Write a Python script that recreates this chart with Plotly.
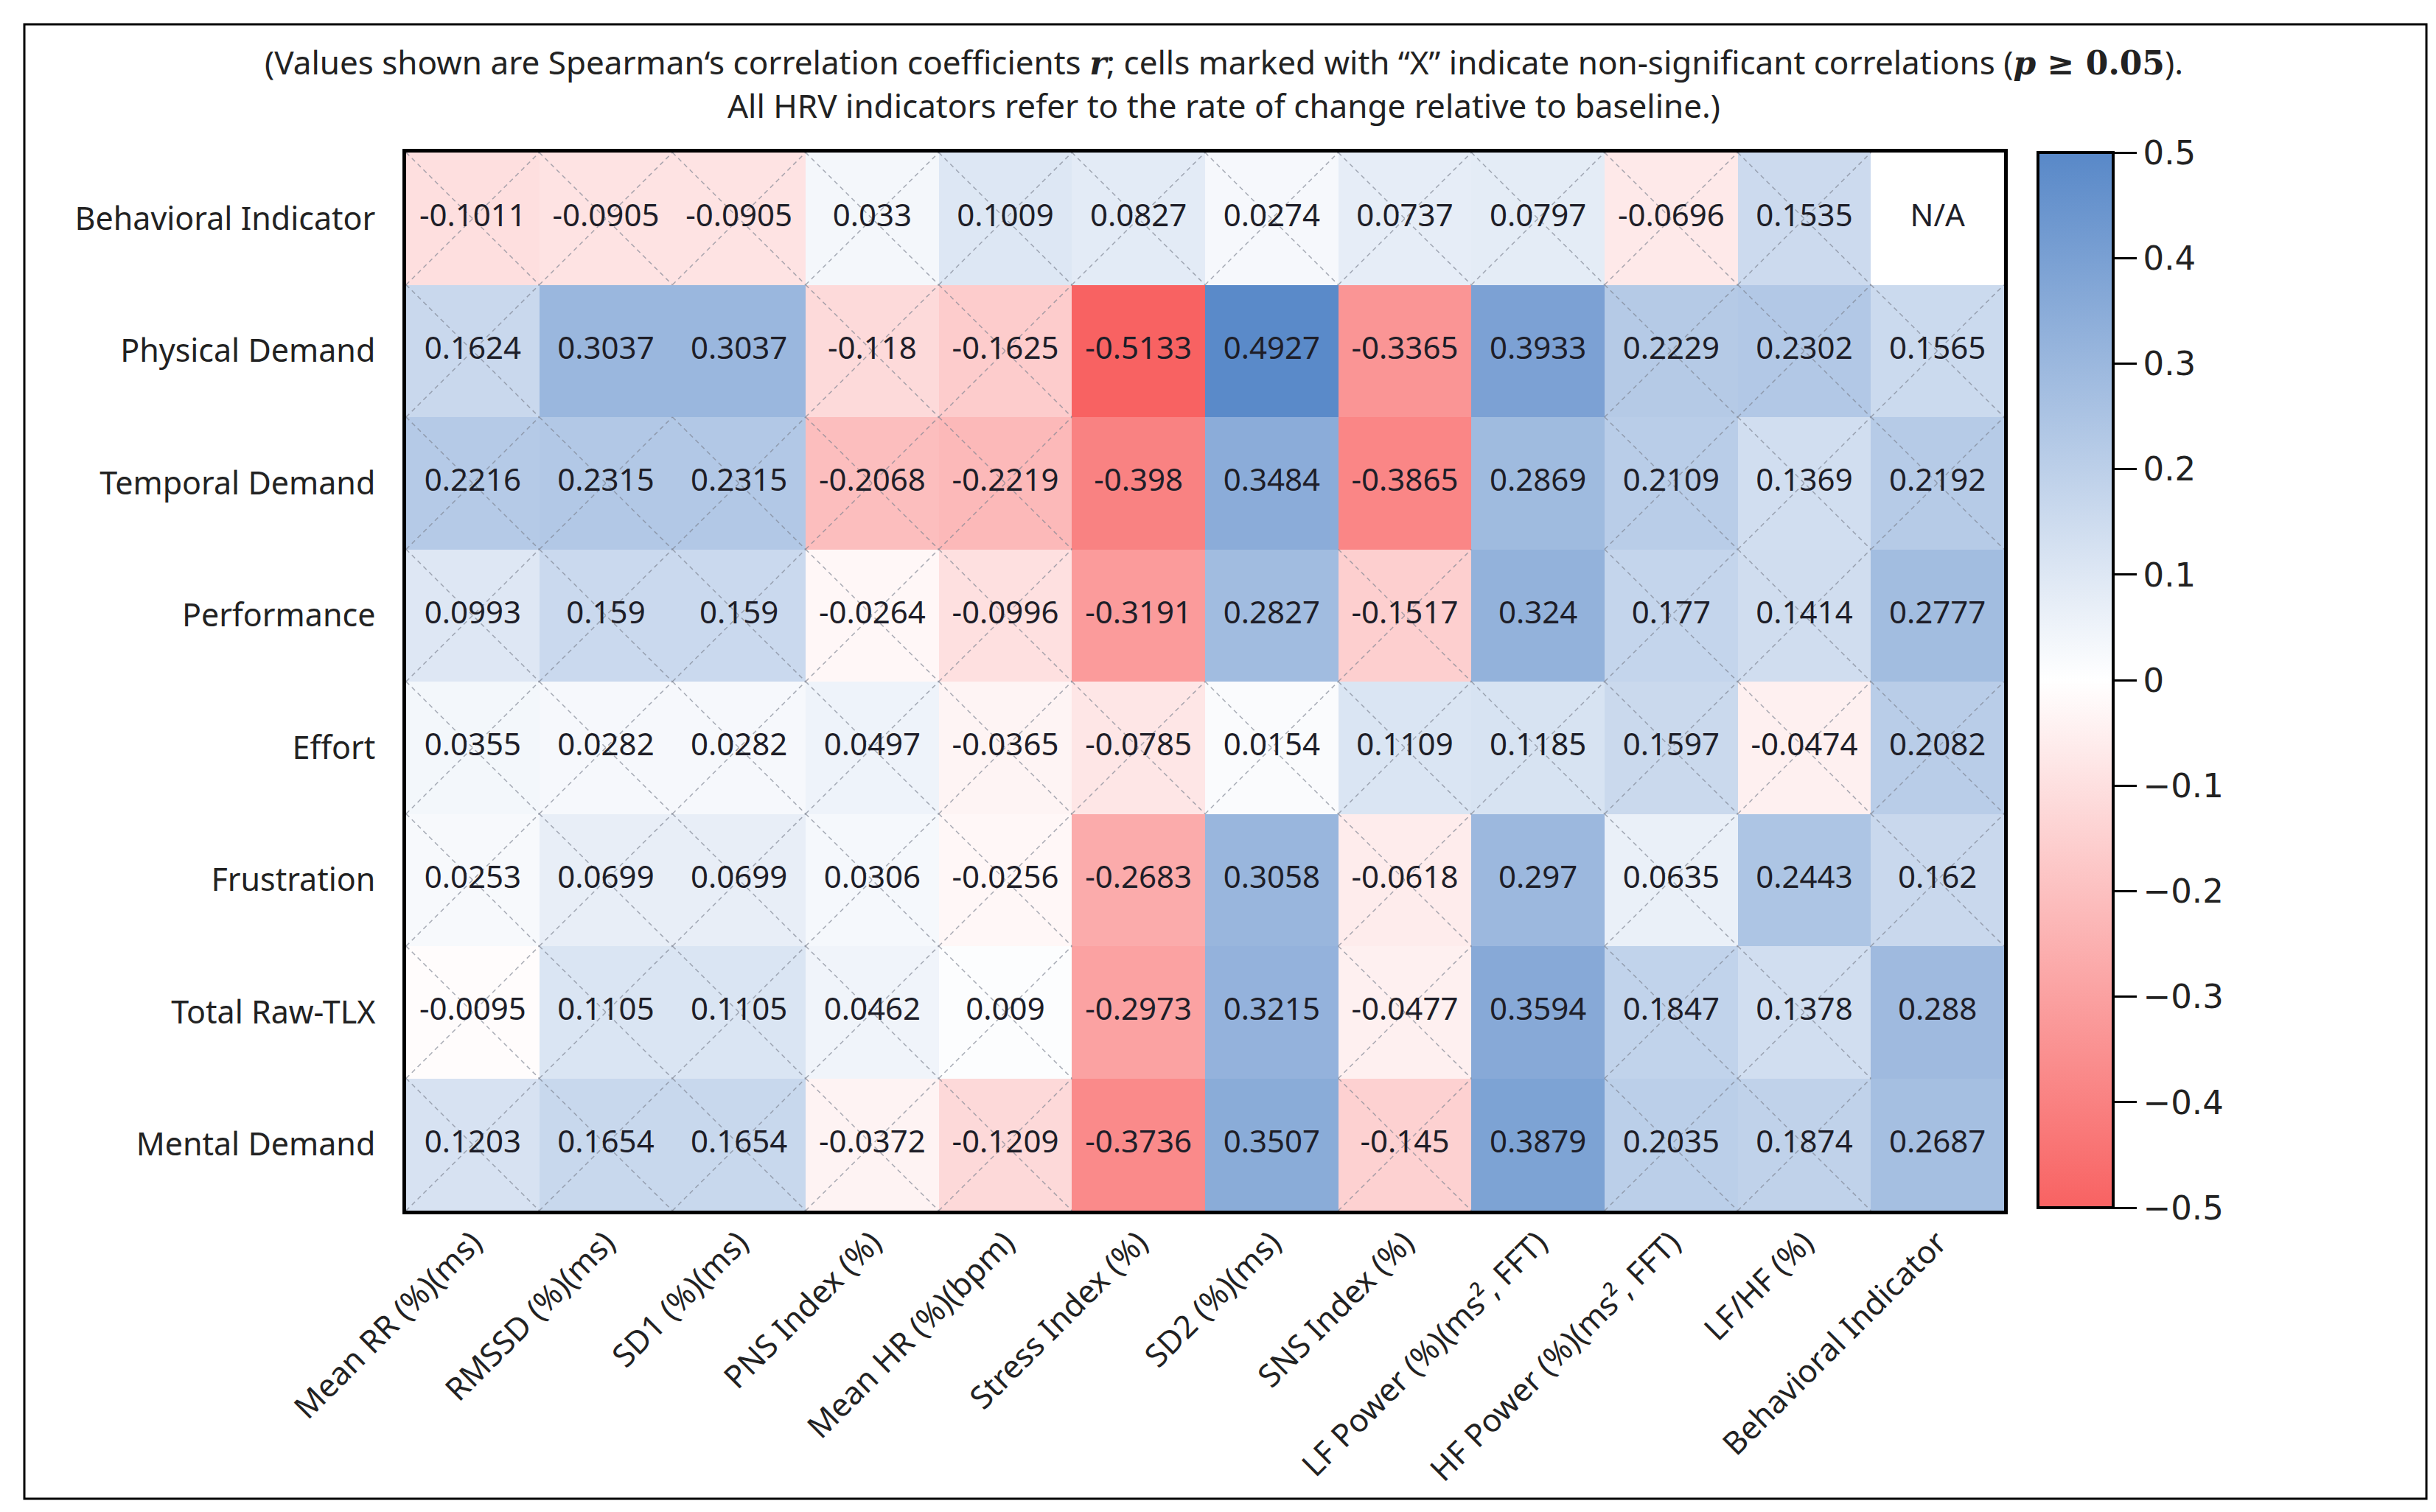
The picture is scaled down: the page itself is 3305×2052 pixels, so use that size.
import plotly.graph_objects as go

# Rows (top to bottom) and columns (left to right) of the correlation matrix
row_labels = ["Behavioral Indicator", "Physical Demand", "Temporal Demand", "Performance",
              "Effort", "Frustration", "Total Raw-TLX", "Mental Demand"]
col_labels = ["Mean RR (%)(ms)", "RMSSD (%)(ms)", "SD1 (%)(ms)", "PNS Index (%)",
              "Mean HR (%)(bpm)", "Stress Index (%)", "SD2 (%)(ms)", "SNS Index (%)",
              "LF Power (%)(ms², FFT)", "HF Power (%)(ms², FFT)", "LF/HF (%)",
              "Behavioral Indicator"]

# Spearman r values (None = N/A)
r_values = [
    [-0.1011, -0.0905, -0.0905, 0.033, 0.1009, 0.0827, 0.0274, 0.0737, 0.0797, -0.0696, 0.1535, None],
    [0.1624, 0.3037, 0.3037, -0.118, -0.1625, -0.5133, 0.4927, -0.3365, 0.3933, 0.2229, 0.2302, 0.1565],
    [0.2216, 0.2315, 0.2315, -0.2068, -0.2219, -0.398, 0.3484, -0.3865, 0.2869, 0.2109, 0.1369, 0.2192],
    [0.0993, 0.159, 0.159, -0.0264, -0.0996, -0.3191, 0.2827, -0.1517, 0.324, 0.177, 0.1414, 0.2777],
    [0.0355, 0.0282, 0.0282, 0.0497, -0.0365, -0.0785, 0.0154, 0.1109, 0.1185, 0.1597, -0.0474, 0.2082],
    [0.0253, 0.0699, 0.0699, 0.0306, -0.0256, -0.2683, 0.3058, -0.0618, 0.297, 0.0635, 0.2443, 0.162],
    [-0.0095, 0.1105, 0.1105, 0.0462, 0.009, -0.2973, 0.3215, -0.0477, 0.3594, 0.1847, 0.1378, 0.288],
    [0.1203, 0.1654, 0.1654, -0.0372, -0.1209, -0.3736, 0.3507, -0.145, 0.3879, 0.2035, 0.1874, 0.2687],
]

# 1 = significant (p < 0.05), 0 = non-significant (marked with X)
significant = [
    [0, 0, 0, 0, 0, 0, 0, 0, 0, 0, 0, 1],
    [0, 1, 1, 0, 0, 1, 1, 1, 1, 0, 0, 0],
    [0, 0, 0, 0, 0, 1, 1, 1, 1, 0, 0, 0],
    [0, 0, 0, 0, 0, 1, 1, 0, 1, 0, 0, 1],
    [0, 0, 0, 0, 0, 0, 0, 0, 0, 0, 0, 0],
    [0, 0, 0, 0, 0, 1, 1, 0, 1, 0, 1, 0],
    [0, 0, 0, 0, 0, 1, 1, 0, 1, 0, 0, 1],
    [0, 0, 0, 0, 0, 1, 1, 0, 1, 0, 0, 1],
]

cbar_ticks = [0.5, 0.4, 0.3, 0.2, 0.1, 0, -0.1, -0.2, -0.3, -0.4, -0.5]

W, H = 3305, 2052
FONT = "Noto Sans"

xs = list(range(len(col_labels)))
ys = list(range(len(row_labels)))

fig = go.Figure()

fig.add_trace(go.Heatmap(
    z=r_values, x=xs, y=ys,
    zmin=-0.5, zmax=0.5,
    colorscale=[[0, "#F86262"], [0.5, "#FFFFFF"], [1, "#5888C8"]],
    hoverongaps=False,
    colorbar=dict(
        x=2757 / W, xanchor="left", xpad=0,
        y=1 - 915 / H, yanchor="middle", ypad=0,
        thickness=102, thicknessmode="pixels",
        len=1432, lenmode="pixels",
        outlinewidth=4, outlinecolor="black",
        tickvals=cbar_ticks,
        tickprefix="\u00a0\u00a0",
        ticks="outside", ticklen=30, tickwidth=3, tickcolor="black",
        tickfont=dict(family="DejaVu Sans", size=45, color="#222222"),
    ),
))

# dashed X over non-significant cells
lx, ly = [], []
for i, row in enumerate(significant):
    for j, s in enumerate(row):
        if s == 0:
            lx += [j - 0.5, j + 0.5, None, j - 0.5, j + 0.5, None]
            ly += [i - 0.5, i + 0.5, None, i + 0.5, i - 0.5, None]
fig.add_trace(go.Scatter(
    x=lx, y=ly, mode="lines", hoverinfo="skip", showlegend=False,
    line=dict(color="rgba(125,130,145,0.65)", width=1.6, dash="6px,5px"),
))

# cell values
tx, ty, tt = [], [], []
for i, row in enumerate(r_values):
    for j, v in enumerate(row):
        tx.append(j)
        ty.append(i)
        tt.append("N/A" if v is None else ("-" if v < 0 else "") + f"{abs(v):g}")
fig.add_trace(go.Scatter(
    x=tx, y=ty, text=tt, mode="text", hoverinfo="skip", showlegend=False,
    textfont=dict(family=FONT, size=42, color="#1e1e28"),
))

fig.update_xaxes(
    domain=[543 / W, 2711 / W], range=[-0.5, len(col_labels) - 0.5],
    tickvals=xs, ticktext=col_labels, tickangle=-45, ticks="",
    tickfont=dict(family=FONT, size=43, color="#222222"),
    ticklabelstandoff=-4, automargin=False,
    showgrid=False, zeroline=False,
    showline=True, mirror=True, linecolor="black", linewidth=5,
)
fig.update_yaxes(
    domain=[1 - 1635 / H, 1 - 199 / H], range=[len(row_labels) - 0.5, -0.5],
    tickvals=ys, ticktext=row_labels, ticks="",
    tickfont=dict(family=FONT, size=43, color="#222222"),
    ticklabelstandoff=28, automargin=False,
    showgrid=False, zeroline=False,
    showline=True, mirror=True, linecolor="black", linewidth=5,
)

math = "font-family:'DejaVu Serif';font-weight:bold"
line1 = ("(Values shown are Spearman‘s correlation coefficients "
         f"<span style=\"{math}\"><i>r</i></span>; cells marked with “X” indicate "
         f"non-significant correlations (<span style=\"{math}\"><i>p</i> ≥ 0.05</span>).")
line2 = "All HRV indicators refer to the rate of change relative to baseline.)"

fig.add_annotation(x=0.5, y=1 - 76 / H, xref="paper", yref="paper", text=line1,
                   xanchor="center", yanchor="middle", showarrow=False,
                   font=dict(family=FONT, size=44, color="#222222"))
fig.add_annotation(x=0.5, y=1 - 135 / H, xref="paper", yref="paper", text=line2,
                   xanchor="center", yanchor="middle", showarrow=False,
                   font=dict(family=FONT, size=44, color="#222222"))

# outer frame
fig.add_shape(type="rect", xref="paper", yref="paper",
              x0=25 / W, x1=3284 / W, y0=1 - 2026 / H, y1=1 - 25 / H,
              line=dict(color="black", width=3))

fig.update_layout(
    width=W, height=H,
    margin=dict(l=0, r=0, t=0, b=0, autoexpand=False),
    paper_bgcolor="white", plot_bgcolor="white",
    showlegend=False,
)

fig.write_html("out.html")
